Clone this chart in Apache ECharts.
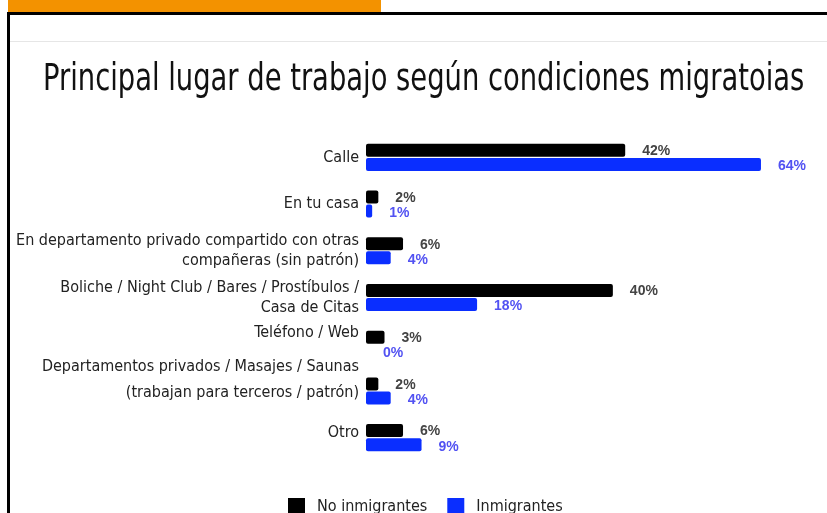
<!DOCTYPE html>
<html style="height: 100%">
<head>
    <meta charset="utf-8" />
    <title>Principal lugar de trabajo</title>
    <script type="text/javascript" src="https://cdn.jsdelivr.net/npm/echarts@6.0.0/dist/echarts.min.js"></script>
</head>
<body style="height: 100%; margin: 0; background: #fff">
    <div id="container" style="width: 827px; height: 513px"></div>
</body>
</html>
<script type="text/javascript">
    var categories = [
        'Calle',
        'En tu casa',
        'En departamento privado compartido con otras\ncompañeras (sin patrón)',
        'Boliche / Night Club / Bares / Prostíbulos /\nCasa de Citas',
        'Teléfono / Web',
        'Departamentos privados / Masajes / Saunas\n(trabajan para terceros / patrón)',
        'Otro'
    ];
    var noInmigrantes = [42, 2, 6, 40, 3, 2, 6];
    var inmigrantes = [64, 1, 4, 18, 0, 4, 9];
    var seriesNames = ['No inmigrantes', 'Inmigrantes'];

    var narrow = "'DejaVu Sans Condensed', 'Liberation Sans Narrow', sans-serif";

    // line style per label, and a blank spacer line that lifts some labels above their bars
    var lineKey = ['n', 'n', 'n', 'n', 'n', 'w', 'n'];
    var spacerKey = [null, null, null, null, 's', 's', 't'];

    var myChart = echarts.init(document.getElementById('container'));
    var option = {
        backgroundColor: '#fff',
        animation: false,
        graphic: [
            { type: 'rect', shape: { x: 8, y: 0, width: 373, height: 13 }, style: { fill: '#f39200' } },
            { type: 'rect', shape: { x: 7, y: 12, width: 820, height: 3 }, style: { fill: '#000' } },
            { type: 'rect', shape: { x: 7, y: 12, width: 3, height: 501 }, style: { fill: '#000' } },
            { type: 'rect', shape: { x: 10, y: 41, width: 817, height: 1 }, style: { fill: '#e6e6e6' } },
            {
                type: 'text',
                x: 43,
                y: 80,
                scaleX: 0.822,
                style: {
                    text: 'Principal lugar de trabajo según condiciones migratoias',
                    fontFamily: narrow,
                    fontSize: 37,
                    fill: '#111',
                    verticalAlign: 'middle'
                }
            }
        ],
        legend: {
            left: 288,
            top: 498,
            padding: 0,
            itemWidth: 17,
            itemHeight: 17,
            itemGap: 20,
            icon: 'rect',
            textStyle: { fontFamily: narrow, fontSize: 16, color: '#222', padding: [0, 0, 0, 7] },
            data: seriesNames
        },
        grid: { left: 366, right: 29, top: 134, bottom: 52, containLabel: false, outerBoundsMode: 'none' },
        xAxis: {
            type: 'value',
            min: 0,
            max: 70,
            show: false
        },
        yAxis: {
            type: 'category',
            inverse: true,
            data: categories,
            axisLine: { show: false },
            axisTick: { show: false },
            axisLabel: {
                interval: 0,
                margin: 7,
                color: '#222',
                align: 'right',
                formatter: function (v, i) {
                    var k = lineKey[i];
                    var out = v.split('\n').map(function (l) {
                        return '{' + k + '|' + l + '}';
                    });
                    if (spacerKey[i]) out.push('{' + spacerKey[i] + '| }');
                    return out.join('\n');
                },
                rich: {
                    n: { fontFamily: narrow, fontSize: 16, lineHeight: 20, color: '#222' },
                    w: { fontFamily: narrow, fontSize: 16, lineHeight: 26, color: '#222' },
                    s: { fontSize: 1, lineHeight: 22 },
                    t: { fontSize: 1, lineHeight: 10 }
                }
            }
        },
        series: [
            {
                name: seriesNames[0],
                type: 'bar',
                data: noInmigrantes,
                barWidth: 13,
                barGap: '8%',
                itemStyle: { color: '#000', borderRadius: 2 },
                label: {
                    show: true,
                    position: 'right',
                    distance: 17,
                    offset: [0, 1],
                    formatter: '{c}%',
                    fontFamily: 'Liberation Sans, Arial, sans-serif',
                    fontWeight: 'bold',
                    fontSize: 14,
                    color: '#444'
                }
            },
            {
                name: seriesNames[1],
                type: 'bar',
                data: inmigrantes,
                barWidth: 13,
                itemStyle: { color: '#0a2eff', borderRadius: 2 },
                label: {
                    show: true,
                    position: 'right',
                    distance: 17,
                    offset: [0, 2],
                    formatter: '{c}%',
                    fontFamily: 'Liberation Sans, Arial, sans-serif',
                    fontWeight: 'bold',
                    fontSize: 14,
                    color: '#5252f2'
                }
            }
        ]
    };
    myChart.setOption(option);
</script>
